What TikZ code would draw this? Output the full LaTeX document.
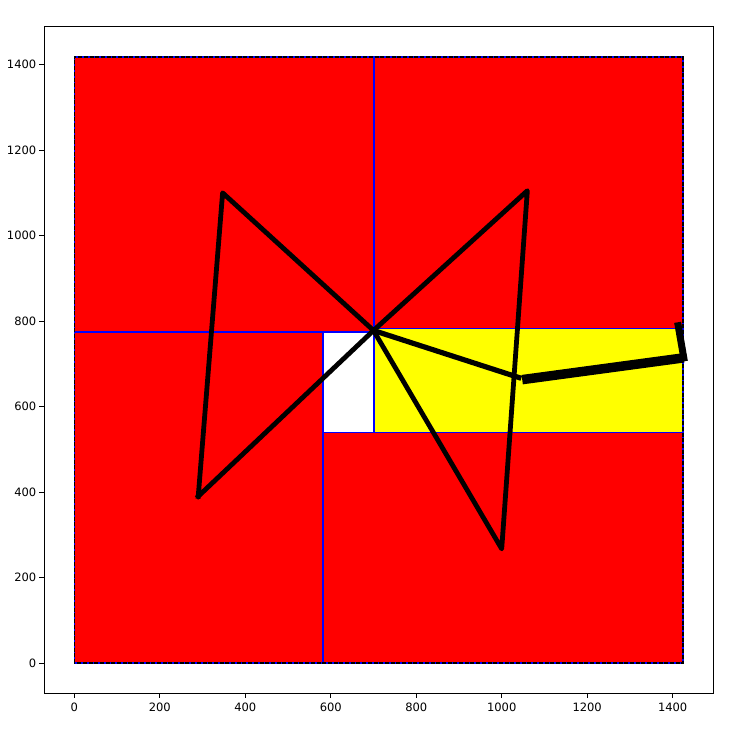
\documentclass[tikz,border=0pt]{standalone}
\usepackage{fontspec}
\setmainfont{DejaVu Sans}
\definecolor{mplred}{RGB}{255,0,0}
\definecolor{mplyellow}{RGB}{255,255,0}
\definecolor{mplblue}{RGB}{0,0,255}
\begin{document}
\begin{tikzpicture}[x=1pt,y=1pt,
  cell/.style={draw=mplblue, line width=1.4pt},
  seg/.style={black, line width=4.8pt, line cap=rect, line join=round},
  tick/.style={black, line width=0.8pt},
  ticklabel/.style={inner sep=0pt, font=\fontsize{11.5}{13}\selectfont}]
\useasboundingbox (0,0) rectangle (735,731);
\fill[white] (0,0) rectangle (735,731);
\begin{scope}[shift={(74.3pt,68pt)}, x=0.4274pt, y=0.4274pt]
  % rectangle fills
  \fill[mplred] (0,774) rectangle (701,1418);
  \fill[mplred] (701,782) rectangle (1424,1418);
  \fill[mplred] (0,0) rectangle (582,774);
  \fill[white] (582,540) rectangle (701,774);
  \fill[mplyellow] (701,540) rectangle (1424,782);
  \fill[mplred] (582,0) rectangle (1424,540);
  % rectangle edges, each drawn once
  \draw[cell] (0,0) rectangle (1424,1418);
  \draw[cell] (0,774) -- (701,774);
  \draw[cell] (701,782) -- (1424,782);
  \draw[cell] (701,540) -- (701,1418);
  \draw[cell] (582,0) -- (582,774);
  \draw[cell] (582,540) -- (1424,540);
  \draw[black, line width=1.5pt, dash pattern=on 4pt off 1.7pt] (0,0) rectangle (1424,1418);
  % points
  \coordinate (A) at (290,390);
  \coordinate (B) at (347,1100);
  \coordinate (C) at (700,778);
  \coordinate (D) at (1060,1105);
  \coordinate (E) at (1000,267);
  \coordinate (F) at (1040,668);
  \coordinate (F2) at (1048,663);
  \coordinate (G) at (1426,714);
  \coordinate (H) at (1413,789);
  \draw[seg] (A) -- (B) -- (C) -- (D) -- (E) -- (C) -- (A);
  \draw[seg, line width=5.2pt] (C) -- (F);
  \draw[black, line width=9.5pt, line cap=butt] (F2) -- (G);
  \draw[black, line width=7pt, line cap=rect] (G) -- (H);
  % axes
  \coordinate (axSW) at (-71,-71);
  \coordinate (axNE) at (1495,1489);
  \draw[black, line width=0.8pt] (axSW) rectangle (axNE);
  \foreach \v in {0,200,...,1400} {
    \coordinate (xt\v) at (\v,-71);
    \coordinate (yt\v) at (-71,\v);
    \draw[tick] (xt\v) -- ++(0pt,-4.5pt);
    \draw[tick] (yt\v) -- ++(-4.5pt,0pt);
    \node[ticklabel, anchor=center, yshift=-14.4pt] (xl\v) at (xt\v) {\v};
    \node[ticklabel, anchor=east, xshift=-7.5pt] (yl\v) at (yt\v) {\v};
  }
\end{scope}
\end{tikzpicture}
\end{document}
